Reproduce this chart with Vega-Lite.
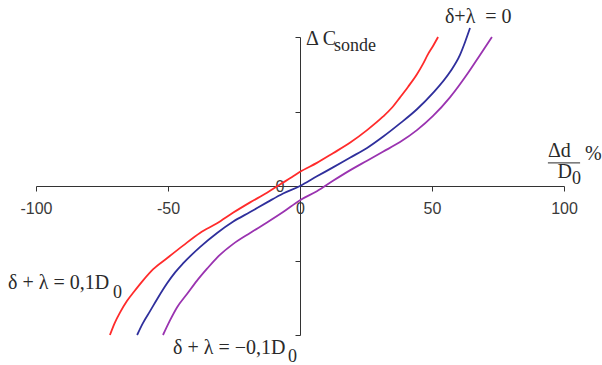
{
  "$schema": "https://vega.github.io/schema/vega-lite/v6.json",
  "width": 528,
  "height": 298,
  "autosize": {"type": "none"},
  "padding": {"left": 36, "top": 37, "right": 38, "bottom": 30},
  "background": "white",
  "config": {
    "view": {"stroke": null},
    "axis": {
      "grid": false,
      "title": null,
      "domainColor": "#333333",
      "tickColor": "#333333",
      "labelColor": "#3a3a3a",
      "labelFont": "Liberation Sans",
      "labelFontSize": 16,
      "tickSize": 5
    }
  },
  "datasets": {
    "curves": [
      {"series": "p", "pct": -72.0, "dc": -2.00},
      {"series": "p", "pct": -70.2, "dc": -1.84},
      {"series": "p", "pct": -68.2, "dc": -1.70},
      {"series": "p", "pct": -65.5, "dc": -1.54},
      {"series": "p", "pct": -62.9, "dc": -1.42},
      {"series": "p", "pct": -59.5, "dc": -1.27},
      {"series": "p", "pct": -55.7, "dc": -1.12},
      {"series": "p", "pct": -50.4, "dc": -0.97},
      {"series": "p", "pct": -44.3, "dc": -0.80},
      {"series": "p", "pct": -37.9, "dc": -0.63},
      {"series": "p", "pct": -31.4, "dc": -0.50},
      {"series": "p", "pct": -25.4, "dc": -0.36},
      {"series": "p", "pct": -18.9, "dc": -0.22},
      {"series": "p", "pct": -12.5, "dc": -0.09},
      {"series": "p", "pct": -7.6, "dc": 0.02},
      {"series": "p", "pct": -3.0, "dc": 0.12},
      {"series": "p", "pct": 0.0, "dc": 0.19},
      {"series": "p", "pct": 6.4, "dc": 0.31},
      {"series": "p", "pct": 12.5, "dc": 0.44},
      {"series": "p", "pct": 18.9, "dc": 0.58},
      {"series": "p", "pct": 25.4, "dc": 0.75},
      {"series": "p", "pct": 31.4, "dc": 0.93},
      {"series": "p", "pct": 34.8, "dc": 1.05},
      {"series": "p", "pct": 37.9, "dc": 1.19},
      {"series": "p", "pct": 40.9, "dc": 1.33},
      {"series": "p", "pct": 44.3, "dc": 1.50},
      {"series": "p", "pct": 46.6, "dc": 1.64},
      {"series": "p", "pct": 48.5, "dc": 1.77},
      {"series": "p", "pct": 50.4, "dc": 1.88},
      {"series": "p", "pct": 52.3, "dc": 2.00},
      {"series": "z", "pct": -61.7, "dc": -2.00},
      {"series": "z", "pct": -59.5, "dc": -1.84},
      {"series": "z", "pct": -56.8, "dc": -1.68},
      {"series": "z", "pct": -53.8, "dc": -1.50},
      {"series": "z", "pct": -50.4, "dc": -1.31},
      {"series": "z", "pct": -47.3, "dc": -1.16},
      {"series": "z", "pct": -44.3, "dc": -1.04},
      {"series": "z", "pct": -37.9, "dc": -0.82},
      {"series": "z", "pct": -31.4, "dc": -0.63},
      {"series": "z", "pct": -25.4, "dc": -0.48},
      {"series": "z", "pct": -18.9, "dc": -0.35},
      {"series": "z", "pct": -12.5, "dc": -0.22},
      {"series": "z", "pct": -6.4, "dc": -0.10},
      {"series": "z", "pct": 0.0, "dc": 0.00},
      {"series": "z", "pct": 6.4, "dc": 0.13},
      {"series": "z", "pct": 12.5, "dc": 0.25},
      {"series": "z", "pct": 18.9, "dc": 0.38},
      {"series": "z", "pct": 25.4, "dc": 0.51},
      {"series": "z", "pct": 31.4, "dc": 0.66},
      {"series": "z", "pct": 37.9, "dc": 0.84},
      {"series": "z", "pct": 44.3, "dc": 1.03},
      {"series": "z", "pct": 50.4, "dc": 1.25},
      {"series": "z", "pct": 56.8, "dc": 1.53},
      {"series": "z", "pct": 60.6, "dc": 1.76},
      {"series": "z", "pct": 62.5, "dc": 1.93},
      {"series": "z", "pct": 64.4, "dc": 2.12},
      {"series": "n", "pct": -51.9, "dc": -2.00},
      {"series": "n", "pct": -49.2, "dc": -1.80},
      {"series": "n", "pct": -46.6, "dc": -1.63},
      {"series": "n", "pct": -42.8, "dc": -1.45},
      {"series": "n", "pct": -39.0, "dc": -1.27},
      {"series": "n", "pct": -35.2, "dc": -1.11},
      {"series": "n", "pct": -31.4, "dc": -0.96},
      {"series": "n", "pct": -25.4, "dc": -0.78},
      {"series": "n", "pct": -18.9, "dc": -0.63},
      {"series": "n", "pct": -12.5, "dc": -0.49},
      {"series": "n", "pct": -6.4, "dc": -0.35},
      {"series": "n", "pct": 0.0, "dc": -0.19},
      {"series": "n", "pct": 6.4, "dc": -0.07},
      {"series": "n", "pct": 12.5, "dc": 0.07},
      {"series": "n", "pct": 18.9, "dc": 0.21},
      {"series": "n", "pct": 25.4, "dc": 0.34},
      {"series": "n", "pct": 31.4, "dc": 0.46},
      {"series": "n", "pct": 37.9, "dc": 0.59},
      {"series": "n", "pct": 44.3, "dc": 0.75},
      {"series": "n", "pct": 50.4, "dc": 0.94},
      {"series": "n", "pct": 56.8, "dc": 1.19},
      {"series": "n", "pct": 63.3, "dc": 1.50},
      {"series": "n", "pct": 68.2, "dc": 1.76},
      {"series": "n", "pct": 72.7, "dc": 2.00}
    ],
    "labels": [
      {"pct": 54.9, "dc": 2.19, "label": "δ+λ\u00a0\u00a0= 0"},
      {"pct": 2.3, "dc": 1.89, "label": "Δ C"},
      {"pct": 93.9, "dc": 0.39, "label": "Δd"},
      {"pct": 108.0, "dc": 0.35, "label": "%"},
      {"pct": 97.5, "dc": 0.11, "label": "D"},
      {"pct": -110.6, "dc": -1.38, "label": "δ + λ = 0,1D"},
      {"pct": -48.1, "dc": -2.26, "label": "δ + λ = −0,1D"}
    ],
    "subs": [
      {"pct": 12.9, "dc": 1.81, "label": "sonde"},
      {"pct": 103.0, "dc": 0.03, "label": "0"},
      {"pct": -70.8, "dc": -1.51, "label": "0"},
      {"pct": -4.5, "dc": -2.36, "label": "0"}
    ],
    "bars": [
      {"pct": 93.9, "pct2": 106.1, "dc": 0.31}
    ]
  },
  "encoding": {
    "x": {
      "field": "pct",
      "type": "quantitative",
      "scale": {"domain": [-100, 100], "nice": false, "zero": false},
      "axis": {
        "orient": "bottom",
        "offset": -149,
        "values": [-100, -50, 0, 50, 100],
        "labelExpr": "toString(datum.value)",
        "labelPadding": 9,
        "labelFlush": false,
        "labelOverlap": false
      }
    },
    "y": {
      "field": "dc",
      "type": "quantitative",
      "scale": {"domain": [-2, 2], "nice": false, "zero": false},
      "axis": {
        "orient": "left",
        "offset": -264,
        "values": [-2, -1, 0, 1, 2],
        "labelExpr": "datum.value === 0 ? '0' : ''",
        "labelPadding": 11,
        "labelFlush": false,
        "labelOverlap": false
      }
    }
  },
  "layer": [
    {
      "data": {"name": "curves"},
      "mark": {"type": "line", "strokeWidth": 1.8, "clip": false, "interpolate": "monotone"},
      "encoding": {
        "color": {
          "field": "series",
          "type": "nominal",
          "scale": {"domain": ["p", "z", "n"], "range": ["#ff2b2b", "#2f2f9c", "#9a33b0"]},
          "legend": null
        }
      }
    },
    {
      "data": {"name": "labels"},
      "mark": {"type": "text", "align": "left", "baseline": "alphabetic", "font": "Liberation Serif", "fontSize": 20, "color": "#2a2a2a"},
      "encoding": {"text": {"field": "label"}}
    },
    {
      "data": {"name": "subs"},
      "mark": {"type": "text", "align": "left", "baseline": "alphabetic", "font": "Liberation Serif", "fontSize": 18, "color": "#2a2a2a"},
      "encoding": {"text": {"field": "label"}}
    },
    {
      "data": {"name": "bars"},
      "mark": {"type": "rule", "color": "#2a2a2a", "strokeWidth": 1},
      "encoding": {"x2": {"field": "pct2"}}
    }
  ]
}
